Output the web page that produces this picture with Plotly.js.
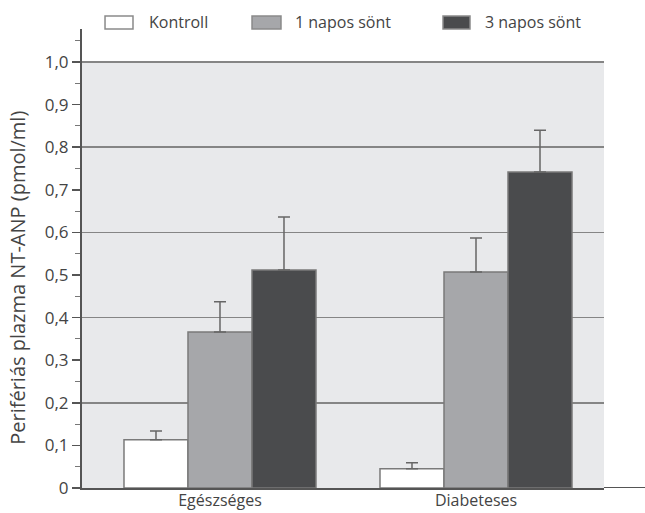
<!DOCTYPE html>
<html>
<head>
<meta charset="utf-8">
<script src="https://cdn.plot.ly/plotly-3.0.1.min.js"></script>
<style>html,body{margin:0;padding:0;background:#fff;}#chart{width:645px;height:513px;}</style>
</head>
<body>
<div id="chart"></div>
<script>
var categories = ["Egészséges", "Diabeteses"];
var seriesNames = ["Kontroll", "1 napos sönt", "3 napos sönt"];
var seriesColors = ["#ffffff", "#a6a7aa", "#4a4b4d"];
var kontroll = [0.113, 0.045];
var kontrollErr = [0.021, 0.014];
var napos1 = [0.366, 0.507];
var napos1Err = [0.071, 0.080];
var napos3 = [0.512, 0.742];
var napos3Err = [0.124, 0.098];
var yTickVals = [0, 0.1, 0.2, 0.3, 0.4, 0.5, 0.6, 0.7, 0.8, 0.9, 1.0];
var yTickText = ["0", "0,1", "0,2", "0,3", "0,4", "0,5", "0,6", "0,7", "0,8", "0,9", "1,0"];
var gridVals = [0.2, 0.4, 0.6, 0.8, 1.0];
var yTitle = "Perifériás plazma NT-ANP (pmol/ml)";

var FONT = "Open Sans, Noto Sans, sans-serif";
var TXT = "#444";

function bar(name, y, err, fill) {
  return {
    type: "bar", name: name, x: categories, y: y,
    marker: {color: fill, line: {color: "#7a7a7a", width: 1.5}},
    error_y: {type: "data", array: err, symmetric: false, arrayminus: [0, 0], color: "#666", thickness: 1.5, width: 6}
  };
}

var data = [
  bar(seriesNames[0], kontroll, kontrollErr, seriesColors[0]),
  bar(seriesNames[1], napos1, napos1Err, seriesColors[1]),
  bar(seriesNames[2], napos3, napos3Err, seriesColors[2])
];
data.push({type: "scatter", x: [categories[0]], y: [0], yaxis: "y2", mode: "markers", marker: {opacity: 0}, showlegend: false, hoverinfo: "skip"});

// custom legend (paper coords): wide rectangle swatch + label
var legendBoxes = [[0.0441, 0.0977, 0.1245], [0.3257, 0.3812, 0.4042], [0.6916, 0.7433, 0.7682]];
var shapes = [
  {type: "rect", xref: "paper", yref: "y", x0: 0, x1: 1, y0: 0, y1: 1.0, fillcolor: "#e8e9eb", line: {width: 0}, layer: "below"},
  {type: "line", xref: "paper", yref: "y", x0: 1, x1: 1.08, y0: 0, y1: 0, line: {color: "#555", width: 2}}
];
var annotations = [
  {xref: "paper", yref: "paper", x: -0.1226, y: 0.458, text: yTitle, textangle: -90, showarrow: false,
   xanchor: "center", yanchor: "middle", font: {size: 20, color: TXT}}
];
seriesNames.forEach(function (n, i) {
  var b = legendBoxes[i];
  shapes.push({type: "rect", xref: "paper", yref: "paper", x0: b[0], x1: b[1], y0: 1.0, y1: 1.0283,
               fillcolor: seriesColors[i], line: {color: "#8a8a8a", width: 1.5}});
  annotations.push({xref: "paper", yref: "paper", x: b[2], y: 1.0142, text: n, showarrow: false,
                    xanchor: "left", yanchor: "middle", font: {size: 16, color: TXT}});
});

var plotTop = 1.0775;
var layout = {
  width: 645, height: 513,
  margin: {l: 82, r: 41, t: 29, b: 25, pad: 0},
  paper_bgcolor: "#fff", plot_bgcolor: "#fff",
  font: {family: FONT, color: TXT, size: 16},
  barmode: "group", bargap: 0.25, bargroupgap: 0,
  showlegend: false,
  xaxis: {range: [-0.539, 1.5], showline: true, linecolor: "#555", linewidth: 2, ticks: "",
          showgrid: false, zeroline: false, tickfont: {size: 16, color: TXT}, ticklabelstandoff: -3, fixedrange: true},
  yaxis: {range: [0, plotTop], tickvals: yTickVals, ticktext: yTickText, ticks: "outside",
          ticklen: 8, tickwidth: 1.5, tickcolor: "#555", showline: true, linecolor: "#555", linewidth: 2,
          showgrid: false, zeroline: false, tickfont: {size: 17, color: TXT},
          minor: {dtick: 0.05, tick0: 0, ticks: "outside", ticklen: 5, tickwidth: 1, tickcolor: "#777", showgrid: false}},
  yaxis2: {overlaying: "y", range: [0, plotTop], tickvals: gridVals, showticklabels: false, ticks: "",
           showgrid: true, gridcolor: "#858585", gridwidth: 1.7, zeroline: false, showline: false, fixedrange: true},
  shapes: shapes,
  annotations: annotations
};

Plotly.newPlot("chart", data, layout, {staticPlot: true});
</script>
</body>
</html>
